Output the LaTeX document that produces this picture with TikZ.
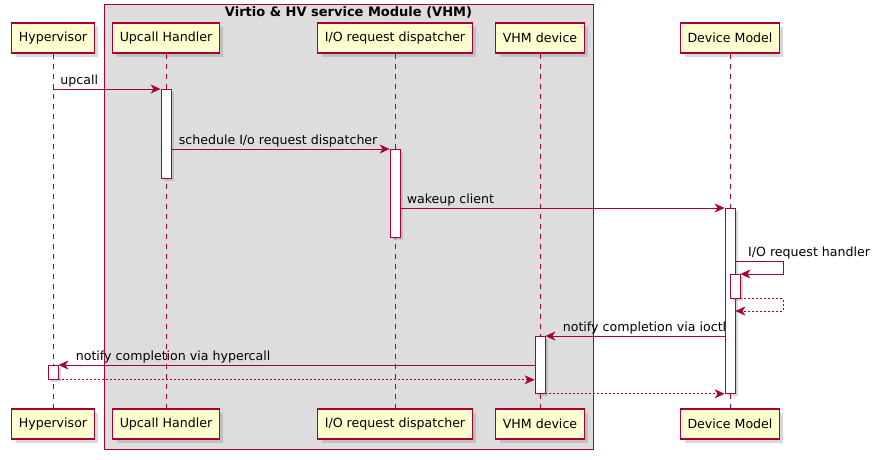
\documentclass[tikz,border=0pt]{standalone}
\usepackage{fontspec}
\setmainfont{DejaVu Sans}
\usetikzlibrary{arrows.meta,shadows,positioning}
\definecolor{umlred}{HTML}{A80036}
\definecolor{umlfill}{HTML}{FEFECE}
\definecolor{grpfill}{HTML}{DDDDDD}

\begin{document}
\begin{tikzpicture}[
        x=1pt, y=-1pt,
        font=\fontsize{12.6}{15}\selectfont,
        >={Stealth[length=10pt, width=9pt, inset=3pt]},
        party/.style={draw=umlred, fill=umlfill, line width=1.1pt, minimum height=30pt, inner xsep=7pt,
            drop shadow={shadow xshift=4pt, shadow yshift=-4pt, opacity=0.3}},
        group/.style={draw=umlred, fill=grpfill, line width=0.9pt},
        life/.style={draw=umlred, line width=0.8pt, dash pattern=on 5pt off 5pt},
        act/.style={draw=umlred, fill=white, line width=0.8pt, minimum width=10pt, inner sep=0pt, anchor=north,
            drop shadow={shadow xshift=3pt, shadow yshift=-3pt, opacity=0.3}},
        msg/.style={->, draw=umlred, line width=0.8pt},
        ret/.style={->, draw=umlred, line width=0.8pt, dash pattern=on 2pt off 2pt},
        lbl/.style={inner sep=0pt, anchor=base west, yshift=5pt, text=black}
    ]
    \useasboundingbox (0,0) rectangle (881,459);

    % --- group box ---
    \draw[group] (104,4) rectangle (593,449);
    \node[font=\fontsize{13}{15}\selectfont\bfseries] (grpTitle) at (348.5,12) {Virtio \& HV service Module (VHM)};

    % --- participants ---
    \node[party] (hyp)  at (53,38)  {Hypervisor};
    \node[party] (upc)  at (166,38) {Upcall Handler};
    \node[party] (disp) at (395,38) {I/O request dispatcher};
    \node[party] (vhm)  at (540,38) {VHM device};
    \node[party] (dm)   at (730,38) {Device Model};

    \node[party] (hypB)  at (53,424)  {Hypervisor};
    \node[party] (upcB)  at (166,424) {Upcall Handler};
    \node[party] (dispB) at (395,424) {I/O request dispatcher};
    \node[party] (vhmB)  at (540,424) {VHM device};
    \node[party] (dmB)   at (730,424) {Device Model};

    % --- lifelines ---
    \foreach \p in {hyp, upc, disp, vhm, dm}
        \draw[life] (\p.south) -- (\p B.north);

    % --- activations ---
    \node[act, minimum height=89pt]  (aUpc)  at (166,89)  {};
    \node[act, minimum height=88pt]  (aDisp) at (395,149) {};
    \node[act, minimum height=185pt] (aDm)   at (730,208) {};
    \node[act, minimum height=24pt]  (aDm2)  at (735,274) {};
    \node[act, minimum height=57pt]  (aVhm)  at (540,336) {};
    \node[act, minimum height=14pt]  (aHyp)  at (53,365)  {};

    % --- messages ---
    \draw[msg] (hyp |- aUpc.north) -- (aUpc.north west)
        node[lbl, pos=0, xshift=7pt] {upcall};
    \draw[msg] (aUpc.east |- aDisp.north) -- (aDisp.north west)
        node[lbl, pos=0, xshift=7pt] {schedule I/o request dispatcher};
    \draw[msg] (aDisp.east |- aDm.north) -- (aDm.north west)
        node[lbl, pos=0, xshift=6pt] {wakeup client};

    % self call
    \coordinate (selfOut) at (783,261);
    \coordinate (retOut) at (783,311);
    \draw[msg] (aDm.east |- selfOut) -- (selfOut) |- (aDm2.north east);
    \node[lbl] (selfLbl) at (748,261) {I/O request handler};
    \draw[ret] (aDm2.south east) -| (retOut) -- (aDm.east |- retOut);

    % completion
    \draw[msg] (aDm.west |- aVhm.north) -- (aVhm.north east)
        node[lbl, pos=1, xshift=17pt] {notify completion via ioctl};
    \draw[msg] (aVhm.west |- aHyp.north) -- (aHyp.north east)
        node[lbl, pos=1, xshift=17pt] {notify completion via hypercall};
    \draw[ret] (aHyp.south east) -- (aVhm.west |- aHyp.south);
    \draw[ret] (aVhm.south east) -- (aDm.south west);

\end{tikzpicture}
\end{document}
